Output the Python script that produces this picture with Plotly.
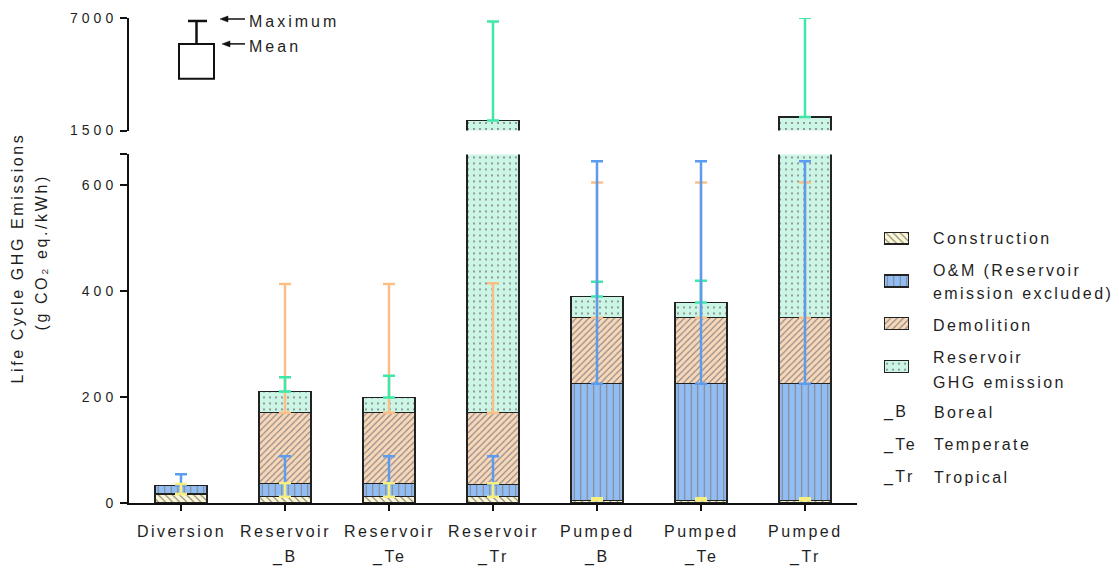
import numpy as np
import plotly.graph_objects as go

# ---- data (g CO2 eq./kWh) ----
categories = ["Diversion", "Reservoir_B", "Reservoir_Te", "Reservoir_Tr",
              "Pumped_B", "Pumped_Te", "Pumped_Tr"]
label_lines = [["Diversion"], ["Reservoir", "_B"], ["Reservoir", "_Te"], ["Reservoir", "_Tr"],
               ["Pumped", "_B"], ["Pumped", "_Te"], ["Pumped", "_Tr"]]

construction = [17, 12, 12, 12, 5, 5, 5]
om = [16, 24, 24, 23, 220, 220, 220]
demolition = [0, 134, 134, 135, 124, 124, 124]
reservoir = [0, 40, 29, 1815, 40, 29, 1815]

# distance from mean to maximum for each stage
construction_err = [19, 25, 25, 25, 4, 4, 4]
om_err = [21, 52, 52, 53, 419, 419, 419]
demolition_err = [None, 243, 243, 244, 255, 255, 255]
reservoir_err = [None, 27, 41, 4850, 28, 41, 4850]

stage_names = ["Construction", "O&M (Reservoir emission excluded)", "Demolition", "Reservoir GHG emission"]
legend_lines = [["Construction"], ["O&M (Reservoir", "emission excluded)"], ["Demolition"],
                ["Reservoir", "GHG emission"]]
suffix_keys = ["_B", "_Te", "_Tr"]
suffix_names = ["Boreal", "Temperate", "Tropical"]

lower_ticks = [0, 200, 400, 600]
upper_ticks = [1500, 7000]
LOWER_MAX = 657
UPPER_RANGE = [1500, 7000]

# ---- styles ----
FONT = "Liberation Sans, Arial, sans-serif"
TXT = "#1f1f1f"
fills = ["#fdf8d2", "#91bdf5", "#f9d7b9", "#cbf6e5"]
shapes_pat = ["\\", "|", "/", "."]
pat_size = [5, 6.5, 4.5, 6]
pat_solid = [0.22, 0.16, 0.25, 0.1]
err_colors = ["#f6ef7e", "#5b9bf0", "#fbbf85", "#3fe8a6"]


def ls(text, px):
    return f'<span style="letter-spacing:{px}px">{text}</span>'


def px_x(px):
    return (px - 129) / 980.0


def px_y(py):
    return (503 - py) / 487.0


stages = [construction, om, demolition, reservoir]
errs = [construction_err, om_err, demolition_err, reservoir_err]
tops = np.cumsum(np.array(stages, dtype=float), axis=0)

fig = go.Figure()


def pattern(i):
    return dict(shape=shapes_pat[i], bgcolor=fills[i], fgcolor="#858585",
                size=pat_size[i], solidity=pat_solid[i], fillmode="replace")


# stacked bars in both halves of the broken axis
for yax in ["y", "y2"]:
    for i, vals in enumerate(stages):
        fig.add_trace(go.Bar(
            x=categories, y=vals, xaxis="x", yaxis=yax, width=0.5,
            name=stage_names[i], showlegend=False,
            marker=dict(color=fills[i], pattern=pattern(i),
                        line=dict(color="#222222", width=1.2)),
        ))

# error bars (mean -> maximum) drawn from the top of each stacked segment
draw_order = [2, 3, 1, 0]
for yax in ["y", "y2"]:
    for i in draw_order:
        ys, es = [], []
        for j in range(len(categories)):
            top = tops[i][j]
            e = errs[i][j]
            in_lower = top <= LOWER_MAX
            keep = e is not None and ((yax == "y" and in_lower) or (yax == "y2" and not in_lower))
            ys.append(top if keep else None)
            es.append(e if keep else 0)
        fig.add_trace(go.Scatter(
            x=categories, y=ys, xaxis="x", yaxis=yax, mode="markers",
            marker=dict(size=1, color="rgba(0,0,0,0)"), showlegend=False,
            error_y=dict(type="data", array=es, arrayminus=[0] * len(es), symmetric=False,
                         color=err_colors[i], thickness=2.5, width=6),
            hoverinfo="skip",
        ))

# legend swatches on a small hidden axis pair
swatch_len = [1]
for i in range(4):
    fig.add_trace(go.Bar(
        y=[stage_names[i]], x=swatch_len, orientation="h", xaxis="x3", yaxis="y3",
        width=0.28, showlegend=False, hoverinfo="skip",
        marker=dict(color=fills[i], pattern=pattern(i), line=dict(color="#222222", width=1.2)),
    ))

axis_line = dict(showline=True, linecolor="#111111", linewidth=2, ticks="outside",
                 ticklen=7, tickwidth=2, tickcolor="#111111", showgrid=False, zeroline=False)

fig.update_layout(
    width=1119, height=569,
    margin=dict(l=129, r=10, t=16, b=66),
    paper_bgcolor="white", plot_bgcolor="white",
    barmode="stack", showlegend=False,
    font=dict(family=FONT, color=TXT, size=14),
    xaxis=dict(domain=[0, 728 / 980], range=[-0.5, 6.5], type="category",
               categoryorder="array", categoryarray=categories, anchor="y",
               showticklabels=False, ticklen=6, **{k: v for k, v in axis_line.items() if k != "ticklen"}),
    yaxis=dict(domain=[0, px_y(153)], range=[0, LOWER_MAX], anchor="x",
               tickvals=lower_ticks, ticktext=[ls(str(t), 4) for t in lower_ticks],
               minor=dict(tickvals=[LOWER_MAX], ticks="outside", ticklen=7, tickwidth=2,
                          tickcolor="#111111", showgrid=False),
               tickfont=dict(size=14), **axis_line),
    yaxis2=dict(domain=[px_y(129), 1], range=UPPER_RANGE, anchor="x",
                tickvals=upper_ticks, ticktext=[ls(str(t), 4) for t in upper_ticks],
                tickfont=dict(size=14), **axis_line),
    xaxis3=dict(domain=[px_x(884), px_x(909)], range=[0, 1], anchor="y3", visible=False),
    yaxis3=dict(domain=[px_y(387.5), px_y(215.5)], range=[3.5, -0.5], type="category",
                categoryorder="array", categoryarray=stage_names, anchor="x3", visible=False),
)


def label(x, y, text, xref="paper", xanchor="center", **kw):
    return dict(x=x, y=y, xref=xref, yref="paper", xanchor=xanchor, yanchor="middle",
                text=text, showarrow=False, font=dict(size=16), **kw)


ann = []
# category labels, one annotation per line
for cat, lines in zip(categories, label_lines):
    for k, line in enumerate(lines):
        ann.append(label(cat, px_y(532 + 25 * k), ls(line, 2.5), xref="x"))

# y-axis title (two lines)
ann.append(label(px_x(18), px_y(257.5), ls("Life Cycle GHG Emissions", 2.6), textangle=-90))
ann.append(label(px_x(42), px_y(251.5), ls("(g CO₂ eq./kWh)", 2.6), textangle=-90))

# legend text
legend_y = [[237], [270, 293], [325], [357, 382]]
for lines, ys in zip(legend_lines, legend_y):
    for line, yy in zip(lines, ys):
        ann.append(label(px_x(931), px_y(yy), ls(line, 2.4), xanchor="left"))
for k, (key, nm) in enumerate(zip(suffix_keys, suffix_names)):
    yy = px_y(412 + 32.5 * k)
    ann.append(label(px_x(881), yy, ls(key, 2.4), xanchor="left"))
    ann.append(label(px_x(932), yy, ls(nm, 2.4), xanchor="left"))

# mean / maximum key: text beside small arrows
key_shapes = []
for tip_x, tip_y, text, text_y in [(220, 17, "Maximum", 20), (222, 42, "Mean", 45)]:
    ann.append(label(px_x(247), px_y(text_y), ls(text, 3), xanchor="left"))
    key_shapes.append(dict(type="line", xref="paper", yref="paper",
                           x0=px_x(tip_x + 6), x1=px_x(245), y0=px_y(tip_y), y1=px_y(tip_y),
                           line=dict(color="#111111", width=1.5)))
    key_shapes.append(dict(type="path", xref="paper", yref="paper",
                           path=(f"M {px_x(tip_x)} {px_y(tip_y)} "
                                 f"L {px_x(tip_x + 8)} {px_y(tip_y - 3)} "
                                 f"L {px_x(tip_x + 8)} {px_y(tip_y + 3)} Z"),
                           fillcolor="#111111", line=dict(color="#111111", width=0.5)))

fig.update_layout(annotations=ann)

key_line = dict(color="#111111", width=2.5)
fig.update_layout(shapes=[
    dict(type="rect", xref="paper", yref="paper", x0=px_x(179), x1=px_x(214),
         y0=px_y(77), y1=px_y(42), line=dict(color="#111111", width=2), fillcolor="white"),
    dict(type="line", xref="paper", yref="paper", x0=px_x(196.5), x1=px_x(196.5),
         y0=px_y(42), y1=px_y(19), line=key_line),
    dict(type="line", xref="paper", yref="paper", x0=px_x(188), x1=px_x(207),
         y0=px_y(19), y1=px_y(19), line=key_line),
] + key_shapes)

fig.write_html("out.html")
